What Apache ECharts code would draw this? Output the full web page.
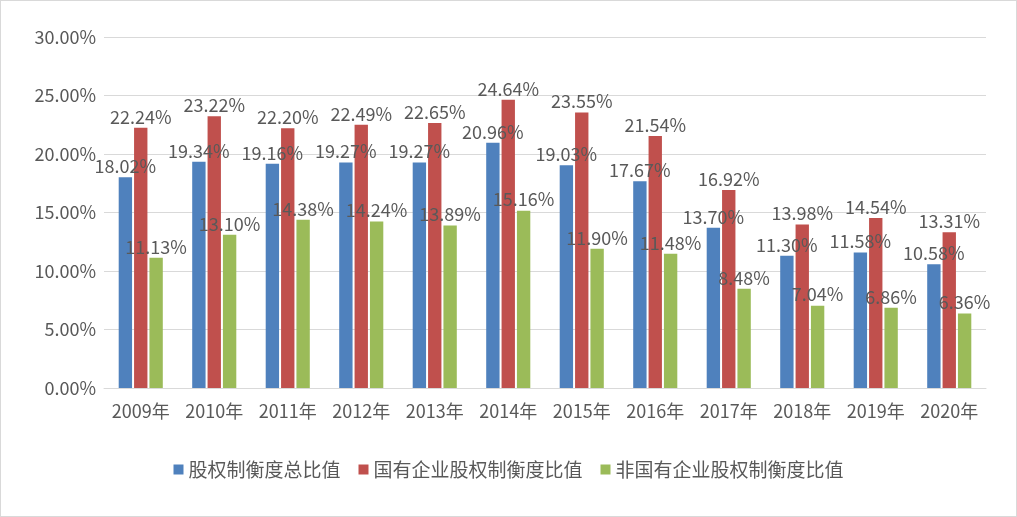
<!DOCTYPE html>
<html><head><meta charset="utf-8">
<script src="https://cdn.jsdelivr.net/npm/echarts@6/dist/echarts.min.js"></script>
<style>html,body{margin:0;padding:0;background:#fff}#c{width:1015px;height:515px;border:1px solid #d9d9d9}</style>
</head><body><div id="c"></div>
<script>
var years = ["2009年","2010年","2011年","2012年","2013年","2014年","2015年","2016年","2017年","2018年","2019年","2020年"];
var total = [18.02,19.34,19.16,19.27,19.27,20.96,19.03,17.67,13.70,11.30,11.58,10.58];
var stateOwned = [22.24,23.22,22.20,22.49,22.65,24.64,23.55,21.54,16.92,13.98,14.54,13.31];
var nonState = [11.13,13.10,14.38,14.24,13.89,15.16,11.90,11.48,8.48,7.04,6.86,6.36];
var names = ["股权制衡度总比值","国有企业股权制衡度比值","非国有企业股权制衡度比值"];
var colors = ["#4f81bd","#c0504d","#9bbb59"];

var font = '"Noto Sans CJK SC", "Liberation Sans", sans-serif';
function mk(i, data) {
    return {
        name: names[i],
        type: 'bar',
        data: data,
        barGap: '15%',
        barCategoryGap: '40%',
        itemStyle: {color: colors[i]},
        label: {
            show: true,
            position: 'top',
            distance: 2,
            color: '#595959',
            fontSize: 18,
            fontFamily: font,
            formatter: function (p) { return p.value.toFixed(2) + '%'; }
        }
    };
}
var chart = echarts.init(document.getElementById('c'));
chart.setOption({
    textStyle: {fontFamily: font},
    grid: {left: 103, right: 30, top: 36, bottom: 128},
    legend: {
        bottom: 32,
        itemWidth: 10, itemHeight: 10, itemGap: 18,
        icon: 'rect',
        textStyle: {fontSize: 19, color: '#595959', fontFamily: font}
    },
    xAxis: {
        type: 'category',
        data: years,
        axisTick: {show: false},
        axisLine: {lineStyle: {color: '#d9d9d9'}},
        axisLabel: {color: '#595959', fontSize: 18, interval: 0, margin: 14}
    },
    yAxis: {
        type: 'value',
        min: 0, max: 30, interval: 5,
        axisLabel: {color: '#595959', fontSize: 18, formatter: function (v) { return v.toFixed(2) + '%'; }},
        splitLine: {lineStyle: {color: '#d9d9d9'}}
    },
    series: [mk(0, total), mk(1, stateOwned), mk(2, nonState)]
});
</script></body></html>
